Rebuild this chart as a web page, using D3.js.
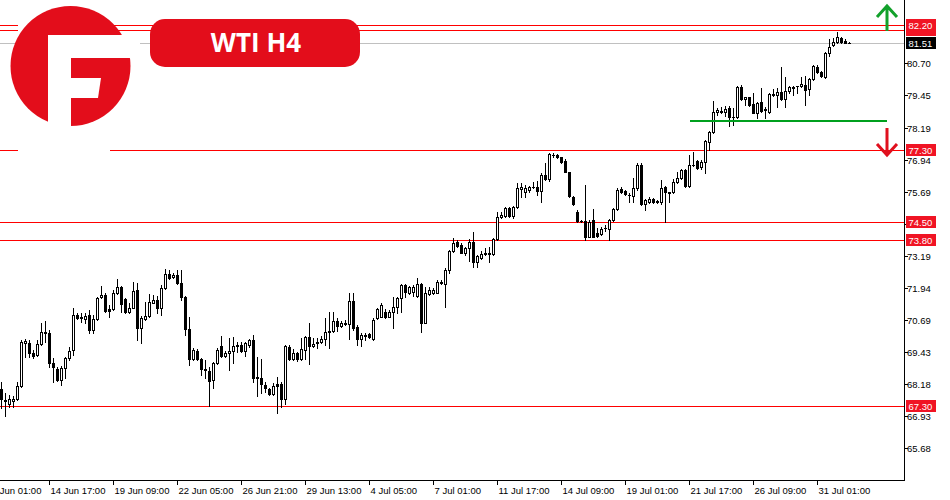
<!DOCTYPE html>
<html><head><meta charset="utf-8">
<script src="https://cdn.jsdelivr.net/npm/d3@7"></script>
<style>
html,body{margin:0;padding:0;background:#fff;}
svg{display:block;}
text{font-family:"Liberation Sans",Arial,sans-serif;}
</style></head><body>
<svg id="chart" width="950" height="500"></svg>
<script>
const opens = [67.96,67.49,67.39,67.50,67.57,68.09,69.79,69.76,69.40,69.31,
 69.74,70.18,70.18,69.01,68.75,68.33,68.79,69.18,69.50,70.87,
 70.74,70.70,70.87,70.28,70.70,71.56,71.65,71.10,71.10,71.72,
 71.95,71.48,71.00,71.16,71.85,70.37,70.73,70.83,71.35,71.46,
 71.16,71.91,72.47,72.37,72.43,72.11,71.59,70.31,69.14,69.48,
 69.14,68.75,68.68,68.33,68.98,69.66,69.28,69.37,69.46,69.66,
 69.70,69.48,69.70,69.89,68.43,68.39,68.13,67.99,67.77,68.16,
 68.17,67.57,69.63,69.15,69.40,69.14,69.50,70.00,69.66,69.76,
 69.83,69.93,70.22,70.25,70.64,70.44,70.52,70.52,71.42,70.41,
 69.92,70.05,70.13,69.92,70.74,70.80,71.00,70.81,70.98,71.20,
 71.52,72.04,71.74,71.75,71.61,72.08,70.57,71.69,71.72,71.74,
 72.13,72.08,72.63,73.38,73.74,73.61,73.31,73.48,73.74,72.95,
 73.08,73.31,73.25,73.25,73.84,74.69,74.74,75.04,74.74,75.08,
 75.78,75.69,75.76,75.88,75.89,75.73,76.34,76.17,77.14,77.12,
 77.03,76.90,76.45,75.47,74.91,74.55,74.54,73.93,74.58,74.06,
 74.02,74.25,74.22,74.58,75.01,75.78,75.73,75.56,75.52,75.82,
 76.73,75.19,75.30,75.39,75.30,75.30,75.86,75.65,75.69,76.08,
 76.21,76.53,75.91,76.73,76.89,76.64,76.86,77.64,78.03,78.82,
 78.82,78.82,78.95,78.60,78.59,79.77,79.30,79.38,79.11,78.78,
 79.18,78.90,78.82,79.47,79.45,79.60,79.30,79.64,79.73,79.81,
 79.82,79.86,79.69,80.08,80.57,80.38,80.16,81.12,81.42,81.55,
 81.68,81.59,81.51];
const highs = [68.26,67.81,67.74,67.70,68.26,69.89,69.92,69.89,69.50,69.89,
 70.54,70.64,70.28,69.18,68.85,68.88,69.24,69.63,71.16,70.94,
 70.94,70.94,71.07,70.87,71.59,72.00,71.72,71.26,71.85,72.26,
 72.00,71.52,71.33,72.17,72.13,70.83,71.39,71.68,71.65,71.61,
 72.04,72.66,72.63,72.50,72.63,72.63,71.61,70.80,69.57,69.53,
 69.18,69.11,68.82,69.05,69.57,70.05,69.46,69.96,70.00,69.83,
 69.83,69.83,69.92,70.09,69.24,69.15,68.26,68.00,68.20,68.43,
 68.26,69.70,69.70,69.53,69.44,69.98,70.05,70.57,69.96,69.96,
 70.05,70.74,71.00,71.00,70.74,70.65,70.67,71.74,71.72,70.48,
 70.18,70.15,70.15,70.74,71.13,71.33,71.09,71.07,71.59,71.59,
 72.08,72.08,72.02,72.05,72.30,72.11,71.98,71.98,71.91,72.24,
 72.24,72.69,73.41,73.87,73.80,73.70,73.54,73.83,74.13,73.21,
 73.38,73.48,73.51,73.87,74.91,74.91,75.08,75.08,75.13,76.04,
 76.04,75.95,75.91,76.08,76.12,76.41,76.82,77.21,77.21,77.16,
 77.06,76.95,76.47,75.52,74.97,74.58,75.95,74.58,75.00,74.26,
 74.30,74.39,74.61,75.04,75.82,75.89,75.76,75.62,76.21,76.80,
 76.80,75.39,75.49,75.43,75.36,76.14,75.91,75.69,76.17,76.47,
 76.56,76.56,77.12,77.25,76.93,76.93,77.71,78.07,79.25,78.95,
 78.98,79.04,79.04,78.95,79.82,79.86,79.40,79.40,79.53,79.21,
 79.73,79.01,79.53,79.69,79.73,80.55,80.18,79.82,79.82,79.82,
 80.18,80.21,80.12,80.64,80.64,80.42,81.16,81.64,81.68,81.93,
 81.75,81.64,81.53];
const lows = [67.22,66.94,67.29,67.29,67.55,68.07,69.24,69.22,69.18,69.28,
 69.70,69.83,68.82,68.26,68.30,68.13,68.39,69.11,69.31,70.70,
 70.61,70.54,70.18,70.18,70.67,71.52,71.00,70.80,71.07,71.69,
 71.00,70.96,70.94,71.13,69.89,69.76,70.67,70.80,71.33,70.96,
 70.87,71.87,72.26,72.33,72.08,71.46,70.09,68.92,69.11,69.10,
 68.52,68.39,67.31,68.03,68.97,69.24,69.24,68.72,68.98,69.44,
 69.44,69.27,69.63,68.26,67.70,67.81,67.87,67.74,67.76,67.05,
 67.29,67.39,69.11,69.11,69.07,69.11,69.14,68.95,69.63,69.57,
 69.76,69.70,69.57,70.22,70.26,70.41,70.48,69.92,70.28,69.70,
 69.66,69.89,69.96,69.89,70.70,70.78,70.74,70.78,70.35,70.94,
 71.00,71.59,71.70,71.60,71.59,70.22,70.54,71.65,71.69,71.72,
 72.08,71.17,72.50,73.34,73.54,73.28,73.21,72.99,72.73,72.76,
 73.04,73.21,72.95,73.21,73.80,74.65,74.71,74.70,74.65,75.04,
 75.47,75.47,75.69,75.82,75.56,75.30,76.15,76.12,77.06,76.99,
 76.82,76.47,75.49,75.17,74.52,74.50,73.80,73.90,73.90,73.93,
 73.99,74.17,73.80,74.56,74.97,75.65,75.56,75.30,75.30,75.75,
 75.17,74.97,75.26,75.23,75.23,75.21,74.51,75.30,75.65,76.04,
 76.17,75.88,75.88,76.69,76.56,76.59,76.43,77.32,77.97,78.69,
 78.75,78.65,78.26,78.30,78.55,79.27,79.08,79.04,78.75,78.55,
 78.82,78.55,78.78,79.43,79.01,79.27,79.01,79.53,79.47,79.53,
 79.79,79.08,79.47,80.05,80.34,80.18,80.12,80.99,81.38,81.51,
 81.51,81.49,81.49];
const closes = [67.57,67.55,67.57,67.57,68.09,69.83,69.85,69.40,69.27,69.74,
 70.22,70.22,69.01,68.85,68.33,68.79,69.18,69.48,70.87,70.74,
 70.80,70.83,70.28,70.70,71.55,71.65,71.04,71.04,71.72,71.95,
 71.30,71.00,71.16,71.81,70.37,70.74,70.83,71.39,71.46,71.13,
 71.91,72.47,72.30,72.43,72.11,71.59,70.31,69.14,69.50,69.14,
 68.75,68.73,68.30,68.98,69.50,69.28,69.37,69.46,69.66,69.70,
 69.48,69.76,69.89,68.39,68.42,68.16,68.00,67.78,68.09,68.11,
 67.57,69.66,69.14,69.37,69.14,69.53,70.00,69.66,69.74,69.81,
 69.95,70.22,70.26,70.64,70.44,70.54,70.57,71.42,70.35,69.92,
 70.09,70.09,70.00,70.67,71.09,71.26,70.81,70.98,71.20,71.52,
 72.04,71.78,71.98,71.95,72.08,70.57,71.72,71.85,71.85,72.17,
 72.15,72.63,73.38,73.67,73.57,73.31,73.48,73.74,72.95,73.18,
 73.25,73.25,73.28,73.84,74.69,74.78,75.04,74.74,75.08,75.82,
 75.89,75.82,75.89,75.89,75.73,76.34,76.17,77.16,77.13,77.03,
 76.86,76.47,75.52,75.21,74.56,74.54,73.93,74.52,73.93,73.96,
 74.22,74.26,74.58,75.01,75.76,75.69,75.60,75.55,75.82,76.73,
 75.19,75.36,75.39,75.30,75.31,75.82,75.69,75.66,76.08,76.21,
 76.53,75.91,76.73,76.72,76.60,76.86,77.67,78.03,78.79,78.88,
 78.83,78.91,78.62,78.59,79.77,79.30,79.38,79.08,78.78,79.17,
 78.85,78.91,79.49,79.51,79.58,79.30,79.64,79.77,79.79,79.82,
 79.90,79.66,80.08,80.60,80.38,80.21,81.12,81.36,81.55,81.72,
 81.55,81.49,81.51];

const xLabelBars = [-4,12,28,44,60,76,92,108,124,140,156,172,188,204];
const xLabels = ["12 Jun 01:00","14 Jun 17:00","19 Jun 09:00","22 Jun 05:00","26 Jun 21:00","29 Jun 13:00","4 Jul 05:00","7 Jul 01:00","11 Jul 17:00","14 Jul 09:00","19 Jul 01:00","21 Jul 17:00","26 Jul 09:00","31 Jul 01:00"];
const yTicks = [80.70,79.45,78.19,76.94,75.69,74.44,73.19,71.94,70.69,69.43,68.18,66.93,65.68];
const hiddenTickLabels = [74.44]; // fully covered by the 74.50 price box in the reference
const levels = [82.00,82.20,77.30,74.50,73.80,67.30];
const levelTextShown = [false,true,true,true,true,true];
const supportLevel = 78.45;
const lastPrice = 81.51;
const title = "WTI H4";

const RED = "#e30d1b";
const plotW = 904, plotH = 480;
const svg = d3.select("#chart");
const x = d3.scaleLinear().domain([0,225]).range([1.5,901.5]);
const y = d3.scaleLinear().domain([64.42,83.18]).range([480,0]);
const py = v => Math.round(y(v));

svg.append("defs").append("clipPath").attr("id","plotclip")
  .append("rect").attr("x",0).attr("y",0).attr("width",plotW).attr("height",plotH);
const plot = svg.append("g").attr("clip-path","url(#plotclip)");

// current price line
plot.append("line").attr("x1",0).attr("x2",plotW)
  .attr("y1",py(lastPrice)+0.5).attr("y2",py(lastPrice)+0.5)
  .attr("stroke","#c0c0c0").attr("stroke-width",1);

// red level lines
plot.selectAll(".lvl").data(levels).join("line")
  .attr("x1",0).attr("x2",plotW)
  .attr("y1",d=>py(d)+0.5).attr("y2",d=>py(d)+0.5)
  .attr("stroke","#ff0000").attr("stroke-width",1);

// candles
const bars = d3.range(opens.length).map(i=>({i,o:opens[i],h:highs[i],l:lows[i],c:closes[i]}));
plot.selectAll(".wick").data(bars).join("line")
  .attr("x1",d=>x(d.i)).attr("x2",d=>x(d.i))
  .attr("y1",d=>py(d.h)).attr("y2",d=>py(d.l)+1)
  .attr("stroke","#000").attr("stroke-width",1);
bars.forEach(d=>{
  const top = py(Math.max(d.o,d.c)), bot = py(Math.min(d.o,d.c));
  if (bot - top < 1) {
    plot.append("line").attr("x1",x(d.i)-1.5).attr("x2",x(d.i)+1.5)
      .attr("y1",top+0.5).attr("y2",top+0.5).attr("stroke","#000");
  } else {
    plot.append("rect").attr("x",x(d.i)-1).attr("y",top+0.5)
      .attr("width",2).attr("height",bot-top)
      .attr("fill",d.c>=d.o?"#fff":"#000").attr("stroke","#000").attr("stroke-width",1);
  }
});

// green support line
plot.append("line").attr("x1",x(172)+0.5).attr("x2",887)
  .attr("y1",y(supportLevel)).attr("y2",y(supportLevel))
  .attr("stroke","#00a01e").attr("stroke-width",2.2);

// arrows
const ax = 887;
plot.append("path").attr("d",`M${ax},31 L${ax},7 M${ax-10},17 L${ax},6 L${ax+10},17`)
  .attr("fill","none").attr("stroke","#12a12b").attr("stroke-width",3);
plot.append("path").attr("d",`M${ax},128 L${ax},153 M${ax-10},144 L${ax},155 L${ax+10},144`)
  .attr("fill","none").attr("stroke","#e0101e").attr("stroke-width",3);

// logo
const logo = svg.append("g");
logo.append("rect").attr("x",18).attr("y",0).attr("width",92).attr("height",157).attr("fill","#fff");
logo.append("circle").attr("cx",70.5).attr("cy",66).attr("r",60).attr("fill",RED);
logo.append("rect").attr("x",48).attr("y",35).attr("width",23).attr("height",100).attr("fill","#fff");
logo.append("rect").attr("x",48).attr("y",35).attr("width",92).attr("height",23).attr("fill","#fff");
logo.append("polygon").attr("points","71,78 101,78 98,98 71,98").attr("fill","#fff");

// title box
svg.append("rect").attr("x",150).attr("y",19).attr("width",210).attr("height",48).attr("rx",15)
  .attr("fill",RED);
svg.append("text").attr("x",256).attr("y",52).attr("text-anchor","middle")
  .style("font-family","'Open Sans',Roboto,sans-serif").style("font-weight","bold")
  .style("font-size","26px").attr("fill","#fff").text(title);

// axes
svg.append("line").attr("x1",plotW+0.5).attr("x2",plotW+0.5).attr("y1",0).attr("y2",plotH+1)
  .attr("stroke","#000");
svg.append("line").attr("x1",0).attr("x2",plotW+1).attr("y1",plotH+0.5).attr("y2",plotH+0.5)
  .attr("stroke","#000");

// y ticks
const yt = svg.append("g");
yt.selectAll("line").data(yTicks).join("line")
  .attr("x1",plotW+1).attr("x2",plotW+4).attr("y1",d=>py(d)+0.5).attr("y2",d=>py(d)+0.5)
  .attr("stroke","#000");
yt.selectAll("text").data(yTicks.filter(v=>!hiddenTickLabels.includes(v))).join("text")
  .attr("x",plotW+3).attr("y",d=>py(d)+0.5).attr("dy","0.36em")
  .style("font-size","9.5px").attr("fill","#000").text(d=>d.toFixed(2));

// x ticks
const xt = svg.append("g");
xt.selectAll("line").data(xLabelBars).join("line")
  .attr("x1",d=>x(d)).attr("x2",d=>x(d)).attr("y1",plotH+1).attr("y2",plotH+5)
  .attr("stroke","#000");
xt.selectAll("text").data(xLabelBars).join("text")
  .attr("x",d=>x(d)+1).attr("y",494)
  .style("font-size","9.5px").attr("fill","#000").text((d,i)=>xLabels[i]);

// price label boxes
const lb = svg.append("g");
levels.forEach((v,i)=>{
  lb.append("rect").attr("x",906).attr("y",py(v)-6).attr("width",30).attr("height",12).attr("fill","#f01424");
  if (levelTextShown[i]) lb.append("text").attr("x",908.5).attr("y",py(v)+0.5).attr("dy","0.36em")
    .style("font-size","9.5px").attr("fill","#fff").text(v.toFixed(2));
});
lb.append("rect").attr("x",906).attr("y",py(lastPrice)-6).attr("width",30).attr("height",12).attr("fill","#000");
lb.append("text").attr("x",908.5).attr("y",py(lastPrice)+0.5).attr("dy","0.36em")
  .style("font-size","9.5px").attr("fill","#fff").text(lastPrice.toFixed(2));
</script>
</body></html>
